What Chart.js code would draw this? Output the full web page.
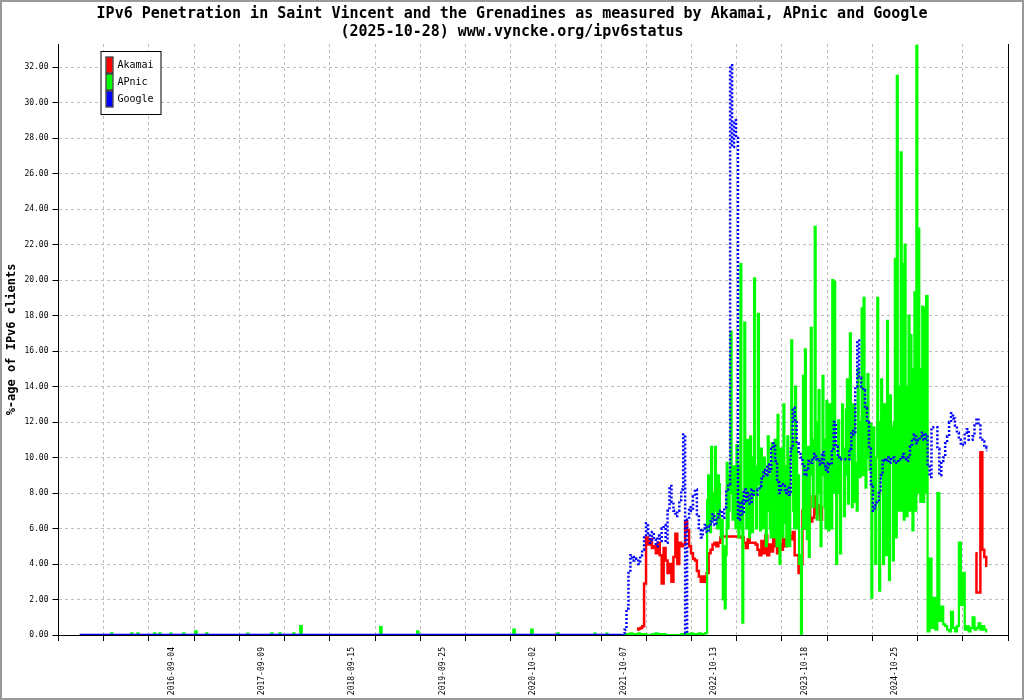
<!DOCTYPE html>
<html>
<head>
<meta charset="utf-8">
<title>IPv6 Penetration in Saint Vincent and the Grenadines</title>
<script src="https://cdn.jsdelivr.net/npm/chart.js@4.4.1/dist/chart.umd.min.js"></script>
<style>
  html, body { margin: 0; padding: 0; background: #fff; }
  #wrap { position: relative; width: 1024px; height: 700px; }
</style>
</head>
<body>
<div id="wrap"><canvas id="chart"></canvas></div>
<script>
/* =============================================
   IPv6 penetration, Saint Vincent and the Grenadines
   Akamai / APnic / Google
   ============================================= */

const TITLE_LINES = ['IPv6 Penetration in Saint Vincent and the Grenadines as measured by Akamai, APnic and Google',
                     '(2025-10-28) www.vyncke.org/ipv6status'];

// --- x axis: day index from the left edge of the plot ---
const TOTAL_DAYS = 3885;
const TICK_DAYS = 92.5;          // half a grid cell
const TICK_LABELS = ['2016-09-04', '2017-09-09', '2018-09-15', '2019-09-25', '2020-10-02',
                     '2021-10-07', '2022-10-13', '2023-10-18', '2024-10-25'];

const FIRST_DAY = 87;            // first measurement
const ACTIVE_START = 2296;       // start of the sampled period
const STEP = 8;                  // days between samples
const FINE_STEP = 4;             // APnic busy period
const APNIC_BODY_START = 2648;
const APNIC_TAIL_START = 3560;
const AKAMAI_A_START = 2368;
const AKAMAI_B_START = 3752;

// quiet years for APnic: [day, value]
const apnicEarly = [
  [87, 0], [214, 0], [218, 0.1], [222, 0], [296, 0], [300, 0.1], [304, 0], [321, 0], [325, 0.1], [329, 0],
  [390, 0], [394, 0.1], [398, 0], [411, 0], [415, 0.1], [419, 0], [456, 0], [460, 0.08], [464, 0],
  [509, 0], [513, 0.1], [517, 0], [556, 0], [562, 0.2], [568, 0], [603, 0], [607, 0.1], [611, 0],
  [771, 0], [775, 0.08], [779, 0], [869, 0], [873, 0.1], [877, 0], [902, 0], [906, 0.1], [910, 0],
  [959, 0], [963, 0.1], [967, 0], [986, 0], [992, 0.5], [998, 0], [1313, 0], [1319, 0.45], [1325, 0],
  [1464, 0], [1470, 0.2], [1476, 0], [1858, 0], [1864, 0.3], [1870, 0], [1931, 0], [1937, 0.3], [1943, 0],
  [2040, 0], [2044, 0.1], [2048, 0], [2191, 0], [2195, 0.08], [2199, 0], [2240, 0], [2244, 0.08], [2248, 0]
];

const apnicQuiet = [
  0, 0, 0, 0, 0.05, 0.05, 0.1, 0.05, 0.05, 0.05,
  0.1, 0.05, 0.05, 0.05, 0, 0, 0, 0.05, 0.05, 0.1,
  0.05, 0.05, 0.05, 0.05, 0, 0, 0, 0, 0, 0,
  0, 0, 0.05, 0.05, 0.1, 0.05, 0.05, 0.1, 0.05, 0.05,
  0.05, 0.1, 0.05, 0.05
];

const apnicBody = [
  0.1, 0.1, 7.6, 9.0, 6.2, 5.8, 10.6, 7.5, 6.5, 8.0,
  10.6, 7.0, 6.0, 9.0, 8.5, 6.0, 5.5, 6.5, 2.0, 5.0,
  1.5, 4.5, 9.7, 6.0, 7.0, 9.0, 17.1, 8.0, 6.5, 9.5,
  8.0, 6.0, 10.7, 8.5, 5.5, 9.5, 20.9, 6.0, 0.7, 8.0,
  17.6, 10.0, 6.0, 11.0, 9.5, 5.5, 11.2, 8.5, 5.8, 10.0,
  20.1, 8.0, 6.0, 9.5, 18.1, 8.5, 5.9, 10.5, 9.1, 6.0,
  10.0, 9.0, 5.0, 7.0, 11.2, 9.0, 6.0, 5.5, 10.8, 8.5,
  5.5, 11.0, 10.0, 5.0, 12.4, 9.0, 4.0, 10.5, 8.5, 5.5,
  13.0, 9.5, 6.3, 5.0, 11.2, 9.5, 5.0, 10.0, 16.6, 11.0,
  7.0, 6.0, 14.0, 10.5, 6.0, 9.0, 4.0, 4.5, 0.0, 6.0,
  14.6, 6.0, 16.1, 10.0, 5.4, 10.6, 4.4, 9.0, 17.3, 11.0,
  7.2, 10.0, 23.0, 12.0, 6.5, 8.0, 13.8, 10.0, 5.0, 9.0,
  14.6, 11.0, 7.2, 6.0, 13.2, 11.0, 5.9, 13.0, 10.0, 6.0,
  20.0, 8.0, 19.9, 10.0, 4.0, 8.0, 12.1, 9.0, 4.6, 10.0,
  13.0, 10.5, 6.7, 9.0, 12.7, 14.4, 7.4, 10.0, 17.0, 13.0,
  7.2, 10.0, 13.0, 7.5, 9.7, 7.0, 15.0, 12.0, 8.9, 11.0,
  18.4, 9.0, 19.0, 13.0, 8.3, 11.0, 14.7, 10.0, 9.3, 11.9,
  2.1, 9.0, 11.7, 8.0, 4.0, 10.0, 19.0, 12.0, 2.5, 9.0,
  14.4, 11.0, 4.0, 13.0, 12.0, 4.5, 17.7, 12.0, 3.1, 13.5,
  11.7, 10.0, 4.2, 12.0, 21.2, 5.5, 31.5, 14.0, 7.0, 12.0,
  27.2, 7.0, 20.9, 6.5, 22.0, 14.0, 6.7, 12.0, 18.0, 7.0,
  16.9, 13.0, 5.9, 15.0, 19.3, 7.0, 33.2, 8.0, 22.9, 15.0,
  7.5, 12.0, 18.5, 7.5, 18.4, 8.0, 19.1
];

const apnicTail = [
  0.2, 4.3, 0.4, 2.1, 0.3, 8.0, 0.8, 1.6, 0.6, 0.5,
  0.3, 0.2, 1.3, 0.4, 0.2, 0.5, 5.2, 1.7, 3.5, 0.3,
  0.5, 0.2, 0.4, 1.0, 0.3, 0.4, 0.65, 0.3, 0.5, 0.3,
  0.2
];

const googleValues = [
  0, 0, 0.1, 0.3, 1.5, 3.5, 4.5, 4.2, 4.4, 4.3,
  4.0, 4.5, 4.8, 5.5, 6.3, 5.6, 5.2, 5.8, 5.4, 5.0,
  5.6, 5.3, 6.0, 6.2, 5.2, 7.0, 8.4, 7.5, 7.0, 6.7,
  7.0, 7.6, 8.2, 11.3, 0.1, 6.5, 7.2, 7.0, 7.8, 8.2,
  6.8, 5.9, 5.5, 6.0, 6.2, 5.8, 6.1, 6.4, 6.8, 6.2,
  6.5, 6.8, 7.0, 6.6, 7.2, 8.2, 8.5, 32.1, 27.5, 29.0,
  28.0, 6.5, 7.5, 6.8, 8.2, 7.5, 8.0, 7.4, 8.2, 7.9,
  7.9, 8.2, 8.4, 8.8, 9.3, 9.0, 9.6, 9.2, 10.5, 10.8,
  9.8, 8.6, 8.0, 8.5, 8.4, 8.0, 8.3, 7.9, 10.5, 12.8,
  12.0, 10.8, 10.2, 10.0, 9.5, 9.0, 9.4, 9.8, 9.7, 10.0,
  10.2, 9.9, 9.8, 9.6, 10.3, 9.5, 9.2, 9.7, 9.6, 10.5,
  12.0, 10.6, 10.0, 9.9, 9.9, 9.9, 9.9, 9.9, 10.5, 11.5,
  11.3, 14.0, 16.6, 14.5, 14.0, 13.8, 12.8, 12.0, 10.5, 8.5,
  7.0, 7.3, 7.5, 8.0, 9.0, 9.9, 9.8, 10.0, 9.7, 9.9,
  10.0, 9.8, 9.7, 9.9, 10.0, 10.2, 9.9, 9.8, 10.0, 10.6,
  11.0, 11.3, 10.8, 11.0, 11.2, 11.4, 11.0, 11.3, 9.5, 8.9,
  11.7, 11.7, 11.7, 10.5, 9.0, 9.8, 10.0, 10.8, 11.2, 12.0,
  12.5, 12.2, 11.8, 11.4, 11.0, 10.7, 10.8, 11.4, 11.6, 11.0,
  11.0, 11.2, 11.8, 12.2, 11.8, 11.0, 10.9, 10.6, 10.4
];

const akamaiValuesA = [
  0.3, 0.35, 0.4, 0.5, 2.9, 5.5, 5.1, 5.4, 4.9, 5.0,
  4.6, 5.2, 4.5, 2.9, 4.9, 4.2, 3.5, 4.0, 3.0, 4.4,
  5.7, 4.0, 5.2, 5.0, 5.1, 6.4, 5.9, 5.0, 4.6, 4.3,
  4.2, 3.6, 3.3, 3.0, 3.3, 3.0, 3.5, 4.6, 4.8, 5.1,
  5.2, 5.0, 5.2, 5.5, 5.55, 5.55, 5.55, 5.55, 5.55, 5.55,
  5.55, 5.55, 5.55, 5.5, 5.5, 5.2, 4.9, 5.4, 5.2, 5.2,
  5.2, 5.1, 4.8, 4.5, 5.3, 4.6, 5.6, 4.5, 5.1, 4.7,
  5.5, 5.0, 4.6, 5.1, 4.8, 5.4, 5.0, 5.3, 5.6, 5.4,
  5.8, 4.5, 4.5, 3.5, 4.0, 7.0, 6.0, 6.5, 7.8, 6.4,
  6.6, 7.8, 6.8, 7.3, 6.5, 7.2
];
const akamaiValuesB = [4.6, 2.4, 2.4, 10.3, 4.8, 4.4, 3.9];

const GRID = '#bdbdbd';

// --- build point lists ---
function sampled(start, values, step = STEP) {
  return values.map((v, i) => ({ x: start + i * step, y: v }));
}

const googlePoints = [{ x: FIRST_DAY, y: 0 }].concat(sampled(ACTIVE_START, googleValues));
const apnicPoints = apnicEarly.map(([d, v]) => ({ x: d, y: v }))
  .concat(sampled(ACTIVE_START, apnicQuiet))
  .concat(sampled(APNIC_BODY_START, apnicBody, FINE_STEP))
  .concat(sampled(APNIC_TAIL_START, apnicTail));
const akamaiA = sampled(AKAMAI_A_START, akamaiValuesA);
const akamaiPoints = akamaiA
  .concat([{ x: akamaiA[akamaiA.length - 1].x + STEP, y: null }])
  .concat(sampled(AKAMAI_B_START, akamaiValuesB));

// --- plugins ---
// title centred on the whole picture, not on the plot box
const pageTitle = {
  id: 'pageTitle',
  afterDraw(chart) {
    const { ctx } = chart;
    ctx.save();
    ctx.fillStyle = '#000';
    ctx.font = "bold 15px 'DejaVu Sans Mono', monospace";
    ctx.textAlign = 'center';
    ctx.textBaseline = 'middle';
    TITLE_LINES.forEach((line, i) => ctx.fillText(line, chart.width / 2, 14 + i * 18));
    ctx.restore();
  }
};

const frame = {
  id: 'frame',
  afterDraw(chart) {
    const { ctx, chartArea: a } = chart;
    ctx.save();
    ctx.strokeStyle = '#000';
    ctx.lineWidth = 1;
    ctx.beginPath();
    ctx.moveTo(a.right + 0.5, a.top);
    ctx.lineTo(a.right + 0.5, a.bottom);
    ctx.stroke();
    ctx.strokeStyle = '#9a9a9a';
    ctx.lineWidth = 2;
    ctx.strokeRect(1, 1, chart.width - 2, chart.height - 2);
    ctx.restore();
  }
};

const boxLegend = {
  id: 'boxLegend',
  afterDraw(chart) {
    const { ctx, chartArea: a } = chart;
    const x0 = a.left + 42, y0 = a.top + 7;
    ctx.save();
    ctx.fillStyle = '#fff';
    ctx.fillRect(x0, y0, 60, 63);
    ctx.strokeStyle = '#000';
    ctx.lineWidth = 1;
    ctx.strokeRect(x0 + 0.5, y0 + 0.5, 60, 63);
    ctx.font = "10px 'DejaVu Sans Mono', monospace";
    ctx.textBaseline = 'middle';
    chart.data.datasets.forEach((ds, i) => {
      const sy = y0 + 6.5 + i * 17;
      ctx.fillStyle = ds.borderColor;
      ctx.fillRect(x0 + 6, sy, 6, 15);
      ctx.strokeRect(x0 + 5.5, sy - 0.5, 7, 16);
      ctx.fillStyle = '#000';
      ctx.fillText(ds.label, x0 + 17, sy + 8);
    });
    ctx.restore();
  }
};

Chart.defaults.font.family = "'DejaVu Sans Mono', monospace";
Chart.defaults.color = '#000';

new Chart(document.getElementById('chart'), {
  type: 'line',
  data: {
    datasets: [
      {
        label: 'Akamai',
        data: akamaiPoints,
        borderColor: '#ff0000',
        borderWidth: 2.5,
        pointRadius: 0,
        spanGaps: false,
        order: 2
      },
      {
        label: 'APnic',
        data: apnicPoints,
        borderColor: '#00ff00',
        borderWidth: 2.2,
        pointRadius: 0,
        order: 1
      },
      {
        label: 'Google',
        data: googlePoints,
        borderColor: '#0000ff',
        borderWidth: 2.5,
        pointRadius: 0,
        order: 0,
        segment: {
          // dotted once off the zero line
          borderDash: ctx => (ctx.p0.parsed.y > 0.05 || ctx.p1.parsed.y > 0.05) ? [2, 2] : undefined
        }
      }
    ]
  },
  options: {
    responsive: true,
    maintainAspectRatio: false,
    animation: false,
    layout: { padding: { left: 0, right: 16, top: 44, bottom: 0 } },
    elements: { line: { tension: 0, stepped: 'middle', borderCapStyle: 'butt' } },
    plugins: {
      legend: { display: false },
      tooltip: { enabled: false },
      title: { display: false }
    },
    scales: {
      x: {
        type: 'linear',
        min: 0,
        max: TOTAL_DAYS,
        afterBuildTicks: axis => {
          const ticks = [];
          for (let v = 0; v <= TOTAL_DAYS + 0.01; v += TICK_DAYS) ticks.push({ value: v });
          axis.ticks = ticks;
        },
        afterFit: axis => { axis.height = 65; },
        ticks: {
          autoSkip: false,
          maxRotation: 90,
          minRotation: 90,
          padding: 6,
          font: { size: 8 },
          callback: (value, index) => {
            if (index < 5 || (index - 5) % 4 !== 0) return '';
            return TICK_LABELS[(index - 5) / 4] || '';
          }
        },
        grid: {
          color: ctx => ctx.index % 2 === 0 ? GRID : 'transparent',
          tickColor: ctx => ctx.index % 2 === 0 ? '#000' : 'transparent',
          tickLength: 6
        },
        border: { color: '#000', width: 1, dash: [3, 3] }
      },
      y: {
        min: 0,
        max: 33.3,
        afterFit: axis => { axis.width = 58.5; },
        ticks: {
          stepSize: 2,
          includeBounds: false,
          padding: 4,
          font: { size: 8 },
          callback: v => v.toFixed(2)
        },
        grid: { color: GRID, tickColor: '#000', tickLength: 6 },
        border: { color: '#000', width: 1, dash: [3, 3] },
        title: {
          display: true,
          text: '%-age of IPv6 clients',
          font: { size: 12, weight: 'bold' },
          color: '#000',
          padding: { top: 5, bottom: 0 }
        }
      }
    }
  },
  plugins: [pageTitle, frame, boxLegend]
});
</script>
</body>
</html>
